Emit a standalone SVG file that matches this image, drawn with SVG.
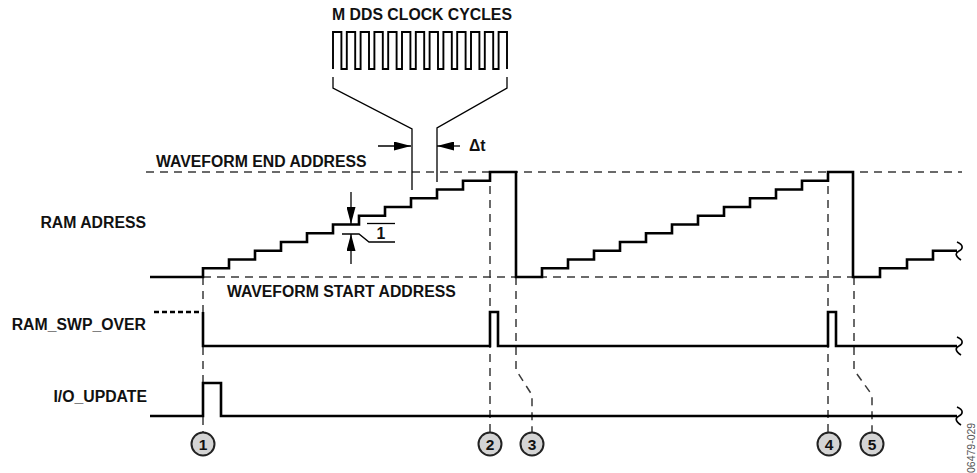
<svg xmlns="http://www.w3.org/2000/svg" width="977" height="473" viewBox="0 0 977 473">
<style>
.lbl{font-family:"Liberation Sans",Arial,sans-serif;font-weight:bold;font-size:15.8px;fill:#111}
.trace{fill:none;stroke:#000;stroke-width:2.6;stroke-linejoin:miter;stroke-linecap:butt}
.thin{fill:none;stroke:#000;stroke-width:1.3}
.dash{fill:none;stroke:#3a3a3a;stroke-width:1.5;stroke-dasharray:8 6}
.sq{fill:none;stroke:#000;stroke-width:1.6}
.evt circle{fill:#d4d4d4;stroke:#222;stroke-width:2}
.evt text{font-family:"Liberation Sans",Arial,sans-serif;font-weight:bold;font-size:15.5px;fill:#111;text-anchor:middle}
</style>
<defs>
<marker id="ah" viewBox="0 0 17 9" markerWidth="17" markerHeight="9" refX="17" refY="4.5" orient="auto" markerUnits="userSpaceOnUse">
<path d="M0,0 L17,4.5 L0,9 z" fill="#000"/>
</marker>
</defs>
<rect width="977" height="473" fill="#fff"/>

<g id="connectors">
<path class="dash" d="M146,172 H962"/>
<path class="dash" d="M203,277 H853"/>
<path class="dash" d="M203,277 V432"/>
<path class="dash" d="M490,172 V432"/>
<path class="dash" d="M516,277 V370 L532,395 V432"/>
<path class="dash" d="M828,172 V432"/>
<path class="dash" d="M854,277 V370 L872,395 V432"/>
<path class="thin" d="M333,77 V88 L412,129 V190"/>
<path class="thin" d="M507,77 V88 L437,128 V182"/>
<path class="thin" d="M378,146 H411" marker-end="url(#ah)"/>
<path class="thin" d="M460,146 H437" marker-end="url(#ah)"/>
<path class="thin" d="M351,192 V224" marker-end="url(#ah)"/>
<path class="thin" d="M351,264 V234" marker-end="url(#ah)"/>
<path class="thin" d="M367,223.5 H395"/>
<path class="thin" d="M342,234 H359 L369,242 H395"/>
</g>

<g id="clock">
<text class="lbl" x="422" y="19.5" text-anchor="middle">M DDS CLOCK CYCLES</text>
<path class="thin" style="stroke-width:1.9" d="M333,69 V32 H341.4 V69 H346.8 V32 H355.2 V69 H360.6 V32 H369 V69 H374.4 V32 H382.8 V69 H388.2 V32 H396.6 V69 H402 V32 H410.4 V69 H415.8 V32 H424.2 V69 H429.6 V32 H438 V69 H443.4 V32 H451.8 V69 H457.2 V32 H465.6 V69 H471 V32 H479.4 V69 H484.8 V32 H493.2 V69 H498.6 V32 H507 V69"/>
</g>

<g id="delta-t">
<text class="lbl" x="469" y="151">Δt</text>
</g>

<g id="step-one">
<text class="lbl" x="381" y="238.5" text-anchor="middle">1</text>
</g>

<g id="waveform-end">
<text class="lbl" x="156" y="167">WAVEFORM END ADDRESS</text>
</g>

<g id="waveform-start">
<text class="lbl" x="227" y="297">WAVEFORM START ADDRESS</text>
</g>

<g id="ram-address">
<text class="lbl" x="146" y="228" text-anchor="end">RAM ADRESS</text>
<path class="trace" d="M150,277 H203 V268.25 H229 V259.5 H255 V250.75 H281 V242 H307 V233.25 H333 V224.5 H359 V215.75 H385 V207 H411 V198.25 H437 V189.5 H463 V180.75 H490 V172 H516 V277 H542 V268.25 H568 V259.5 H594 V250.75 H620 V242 H646 V233.25 H672 V224.5 H698 V215.75 H724 V207 H750 V198.25 H776 V189.5 H802 V180.75 H828 V172 H853 V277 H880 V268.25 H907 V259.5 H933 V250.75 H957"/>
<path class="sq" d="M957,242 C964,245 963,249 959,251 C955,253 955,256 961,260"/>
</g>

<g id="ram-swp-over">
<text class="lbl" x="146" y="330" text-anchor="end">RAM_SWP_OVER</text>
<path class="trace" style="stroke-dasharray:5 3" d="M154,312 H202"/>
<path class="trace" d="M203,312 V346 H490 V312 H498 V346 H828 V312 H836 V346 H957"/>
<path class="sq" d="M957,337 C964,340 963,344 959,346 C955,348 955,351 961,355"/>
</g>

<g id="io-update">
<text class="lbl" x="147" y="402" text-anchor="end">I/O_UPDATE</text>
<path class="trace" d="M150,416 H203 V383 H221 V416 H957"/>
<path class="sq" d="M957,407 C964,410 963,414 959,416 C955,418 955,421 961,425"/>
</g>

<g id="event-1" class="evt"><circle cx="203" cy="444" r="11.5"/><text x="203" y="449.5">1</text></g>
<g id="event-2" class="evt"><circle cx="490" cy="444" r="11.5"/><text x="490" y="449.5">2</text></g>
<g id="event-3" class="evt"><circle cx="532" cy="444" r="11.5"/><text x="532" y="449.5">3</text></g>
<g id="event-4" class="evt"><circle cx="829" cy="444" r="11.5"/><text x="829" y="449.5">4</text></g>
<g id="event-5" class="evt"><circle cx="872" cy="444" r="11.5"/><text x="872" y="449.5">5</text></g>

<g id="figure-id">
<text x="975" y="473" transform="rotate(-90 975 473)" style="font-family:'Liberation Sans',Arial,sans-serif;font-size:10.5px;fill:#555">06479-029</text>
</g>
</svg>
